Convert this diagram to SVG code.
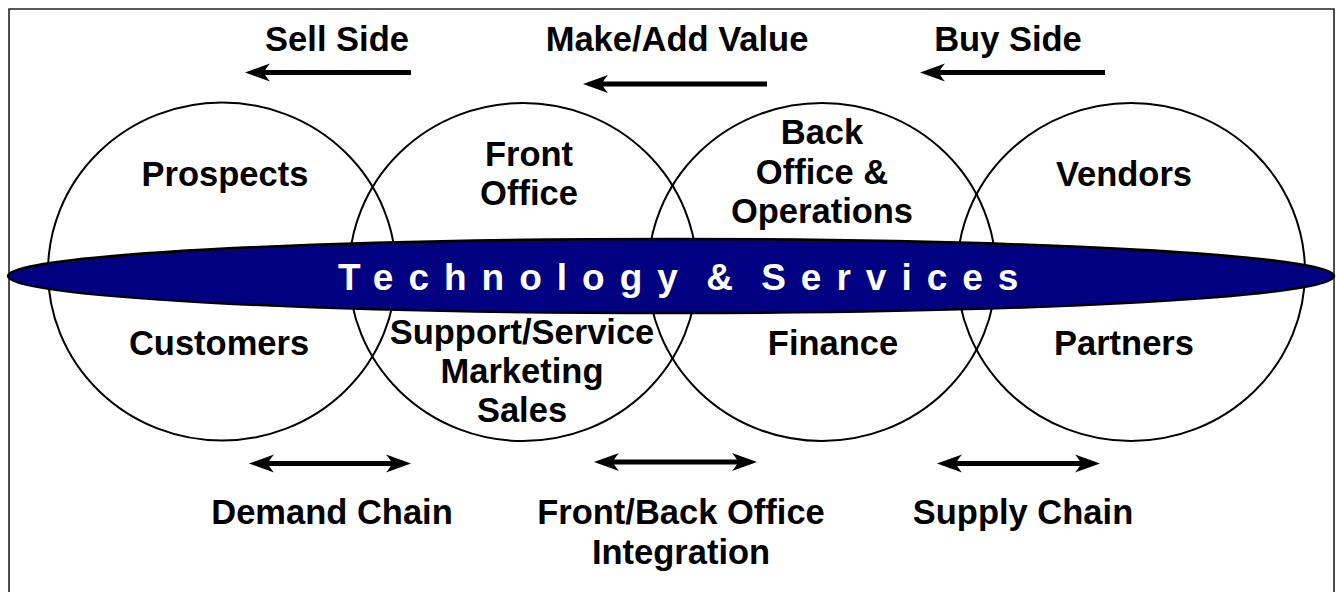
<svg xmlns="http://www.w3.org/2000/svg" width="1336" height="592" viewBox="0 0 1336 592">
<style>
.t{font-family:"Liberation Sans",Arial,sans-serif;font-weight:bold;font-size:34.5px;fill:#000;text-anchor:middle}
.c{fill:none;stroke:#000;stroke-width:2}
.ln{stroke:#000;stroke-width:5;fill:none}
.band{font-family:"Liberation Sans",Arial,sans-serif;font-weight:bold;font-size:37px;fill:#fff;letter-spacing:15px;word-spacing:-12px}
</style>
<defs>
<path id="ah" d="M0,0 L25,-9 Q20,-3 19,0 Q20,3 25,9 Z" fill="#000"/>
</defs>
<rect width="1336" height="592" fill="#fff"/>
<path d="M9,592 V9 H1334 V592" fill="none" stroke="#222" stroke-width="1.6"/>
<g id="circle-demand"><ellipse class="c" cx="222" cy="271.5" rx="174" ry="169"/></g>
<g id="circle-front"><ellipse class="c" cx="523" cy="272" rx="174" ry="169"/></g>
<g id="circle-back"><ellipse class="c" cx="822" cy="272" rx="174" ry="169"/></g>
<g id="circle-supply"><ellipse class="c" cx="1131" cy="272" rx="174" ry="169"/></g>
<g id="band">
<ellipse cx="671" cy="276" rx="663" ry="37" fill="#000080" stroke="#000" stroke-width="2.5"/>
<text class="band" x="338" y="290">Technology &amp; Services</text>
</g>
<g id="connectors">
<line class="ln" x1="411" y1="72.5" x2="262" y2="72.5"/>
<use href="#ah" transform="translate(245,72.5)"/>
<line class="ln" x1="767" y1="84" x2="600" y2="84"/>
<use href="#ah" transform="translate(583,84)"/>
<line class="ln" x1="1105" y1="72.5" x2="937" y2="72.5"/>
<use href="#ah" transform="translate(920,72.5)"/>
<line class="ln" x1="266" y1="463.5" x2="394" y2="463.5"/>
<use href="#ah" transform="translate(249,463.5)"/>
<use href="#ah" transform="translate(411,463.5) rotate(180)"/>
<line class="ln" x1="611" y1="462" x2="740" y2="462"/>
<use href="#ah" transform="translate(594,462)"/>
<use href="#ah" transform="translate(757,462) rotate(180)"/>
<line class="ln" x1="954" y1="463.5" x2="1083" y2="463.5"/>
<use href="#ah" transform="translate(937,463.5)"/>
<use href="#ah" transform="translate(1100,463.5) rotate(180)"/>
</g>
<g id="label-sell"><text class="t" x="337" y="51">Sell Side</text></g>
<g id="label-make"><text class="t" x="677" y="51">Make/Add Value</text></g>
<g id="label-buy"><text class="t" x="1008" y="51">Buy Side</text></g>
<g id="node-prospects"><text class="t" x="225" y="186">Prospects</text></g>
<g id="node-front-office"><text class="t" x="529" y="166">Front</text><text class="t" x="529" y="205">Office</text></g>
<g id="node-back-office"><text class="t" x="822" y="144">Back</text><text class="t" x="822" y="184">Office &amp;</text><text class="t" x="822" y="223">Operations</text></g>
<g id="node-vendors"><text class="t" x="1124" y="186">Vendors</text></g>
<g id="node-customers"><text class="t" x="219" y="355">Customers</text></g>
<g id="node-support"><text class="t" x="522" y="344">Support/Service</text><text class="t" x="522" y="383">Marketing</text><text class="t" x="522" y="422">Sales</text></g>
<g id="node-finance"><text class="t" x="833" y="355">Finance</text></g>
<g id="node-partners"><text class="t" x="1124" y="355">Partners</text></g>
<g id="label-demand"><text class="t" x="332" y="524">Demand Chain</text></g>
<g id="label-integration"><text class="t" x="681" y="524">Front/Back Office</text><text class="t" x="681" y="564">Integration</text></g>
<g id="label-supply"><text class="t" x="1023" y="524">Supply Chain</text></g>
</svg>
